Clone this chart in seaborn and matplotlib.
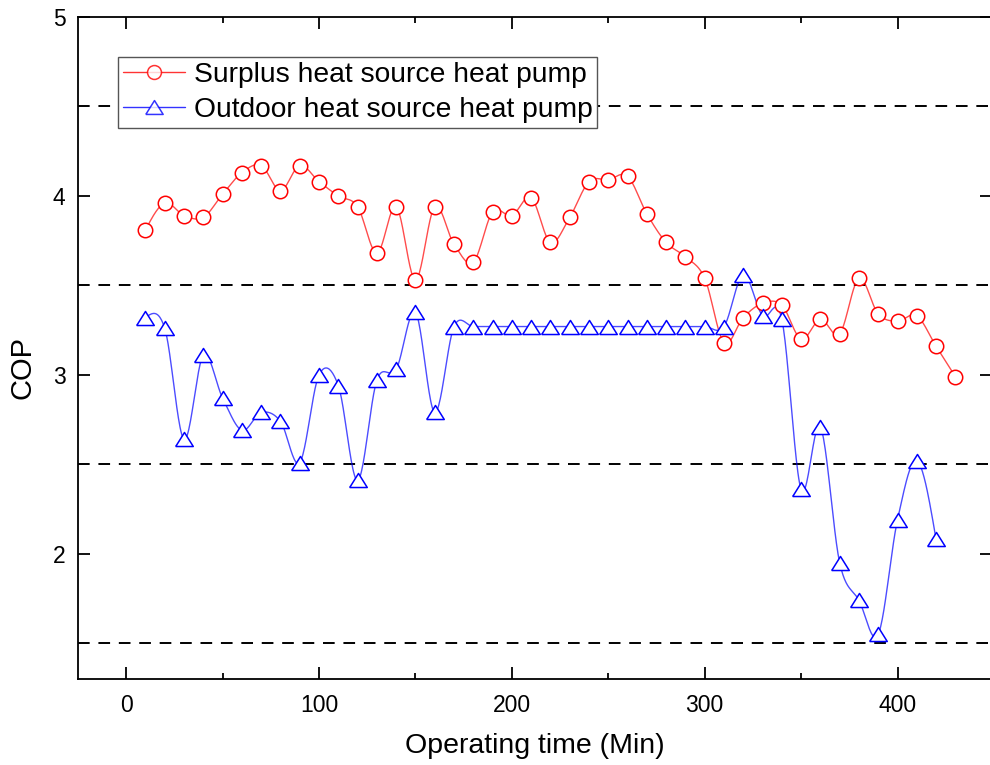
import numpy as np
import pandas as pd
import matplotlib
matplotlib.use("Agg")
import matplotlib.pyplot as plt
from matplotlib.lines import Line2D
import seaborn as sns

# Operating time (min) and COP for the two heat pump systems
time_surplus = [10, 20, 30, 40, 50, 60, 70, 80, 90, 100, 110, 120, 130, 140, 150,
                160, 170, 180, 190, 200, 210, 220, 230, 240, 250, 260, 270, 280,
                290, 300, 310, 320, 330, 340, 350, 360, 370, 380, 390, 400, 410,
                420, 430]
cop_surplus = [3.81, 3.96, 3.89, 3.88, 4.01, 4.13, 4.17, 4.03, 4.17, 4.08, 4.00,
               3.94, 3.68, 3.94, 3.53, 3.94, 3.73, 3.63, 3.91, 3.89, 3.99, 3.74,
               3.88, 4.08, 4.09, 4.11, 3.90, 3.74, 3.66, 3.54, 3.18, 3.32, 3.40,
               3.39, 3.20, 3.31, 3.23, 3.54, 3.34, 3.30, 3.33, 3.16, 2.99]

time_outdoor = [10, 20, 30, 40, 50, 60, 70, 80, 90, 100, 110, 120, 130, 140, 150,
                160, 170, 180, 190, 200, 210, 220, 230, 240, 250, 260, 270, 280,
                290, 300, 310, 320, 330, 340, 350, 360, 370, 380, 390, 400, 410,
                420]
cop_outdoor = [3.32, 3.26, 2.64, 3.11, 2.87, 2.69, 2.79, 2.74, 2.51, 3.00, 2.94,
               2.41, 2.97, 3.03, 3.35, 2.79, 3.27, 3.27, 3.27, 3.27, 3.27, 3.27,
               3.27, 3.27, 3.27, 3.27, 3.27, 3.27, 3.27, 3.27, 3.27, 3.56, 3.33,
               3.31, 2.36, 2.71, 1.95, 1.74, 1.55, 2.19, 2.52, 2.08]

label_surplus = "Surplus heat source heat pump"
label_outdoor = "Outdoor heat source heat pump"
x_label = "Operating time (Min)"
y_label = "COP"
reference_levels = [4.5, 3.5, 2.5, 1.5]


def smooth_curve(x, y, samples=24):
    """Cubic Hermite spline through the points (Catmull-Rom style tangents)."""
    x = np.asarray(x, float)
    y = np.asarray(y, float)
    n = len(x)
    m = np.empty(n)
    m[1:-1] = (y[2:] - y[:-2]) / (x[2:] - x[:-2])
    h0 = x[1] - x[0]
    hn = x[-1] - x[-2]
    m[0] = (3 * (y[1] - y[0]) / h0 - m[1]) / 2
    m[-1] = (3 * (y[-1] - y[-2]) / hn - m[-2]) / 2
    xs, ys = [], []
    t = np.linspace(0, 1, samples, endpoint=False)
    for i in range(n - 1):
        h = x[i + 1] - x[i]
        h00 = 2 * t**3 - 3 * t**2 + 1
        h10 = t**3 - 2 * t**2 + t
        h01 = -2 * t**3 + 3 * t**2
        h11 = t**3 - t**2
        xs.append(x[i] + t * h)
        ys.append(h00 * y[i] + h10 * h * m[i] + h01 * y[i + 1] + h11 * h * m[i + 1])
    xs.append([x[-1]])
    ys.append([y[-1]])
    return np.concatenate(xs), np.concatenate(ys)


sns.set_theme(style="ticks")
plt.rcParams["font.family"] = ["Liberation Sans", "DejaVu Sans"]
plt.rcParams["text.color"] = "black"
plt.rcParams["axes.labelcolor"] = "black"

RED = "#FF0000"
BLUE = "#0000FF"

fig = plt.figure(figsize=(9.9, 7.65), dpi=100)
ax = fig.add_axes([78 / 990, 86 / 765, 914 / 990, 662 / 765])

# dashed horizontal reference lines
for lvl in reference_levels:
    ax.axhline(lvl, color="black", lw=1.4, dashes=(6, 4.5), zorder=1)

# smoothed connecting curves
xs_s, ys_s = smooth_curve(time_surplus, cop_surplus)
xs_o, ys_o = smooth_curve(time_outdoor, cop_outdoor)
sns.lineplot(x=xs_s, y=ys_s, ax=ax, color=RED, lw=1.0, alpha=0.7,
             estimator=None, sort=False, zorder=2)
sns.lineplot(x=xs_o, y=ys_o, ax=ax, color=BLUE, lw=1.0, alpha=0.7,
             estimator=None, sort=False, zorder=2)

# open markers at the measured points
tri = [(-1, -0.8), (1, -0.8), (0, 0.8), (-1, -0.8)]
df_s = pd.DataFrame({"t": time_surplus, "cop": cop_surplus})
df_o = pd.DataFrame({"t": time_outdoor, "cop": cop_outdoor})
sns.scatterplot(data=df_s, x="t", y="cop", ax=ax, marker="o", s=108,
                facecolor="white", edgecolor=RED, linewidth=1.1, zorder=3)
sns.scatterplot(data=df_o, x="t", y="cop", ax=ax, marker=tri, s=160,
                facecolor="white", edgecolor=BLUE, linewidth=1.1, zorder=3)

ax.set_xlim(-25, 449)
ax.set_ylim(1.3, 5.0)
ax.set_xticks([0, 100, 200, 300, 400])
ax.set_xticks([50, 150, 250, 350], minor=True)
ax.set_yticks([2, 3, 4, 5])

for side in ["left", "right", "top", "bottom"]:
    ax.spines[side].set_visible(True)
    ax.spines[side].set_linewidth(1.3)
    ax.spines[side].set_color("black")

ax.tick_params(axis="both", which="major", direction="in", length=8.5, width=1.3,
               color="black", labelsize=16.5, labelcolor="black",
               top=True, right=True)
ax.tick_params(axis="x", which="major", pad=10.5)
ax.tick_params(axis="y", which="major", pad=9)
ax.tick_params(axis="x", which="minor", direction="in", length=4.5, width=1.3,
               color="black", top=True, bottom=True)

ax.set_xlabel(x_label, fontsize=20.5, color="black", labelpad=12)
ax.set_ylabel(y_label, fontsize=21, color="black")
ax.yaxis.set_label_coords(-0.045, 0.471)

handles = [
    Line2D([], [], color=RED, lw=1.0, alpha=0.8, marker="o", markersize=10,
           markerfacecolor="white", markeredgecolor=RED, markeredgewidth=1.1),
    Line2D([], [], color=BLUE, lw=1.0, alpha=0.8, marker=tri, markersize=12.5,
           markerfacecolor="white", markeredgecolor=BLUE, markeredgewidth=1.1),
]
leg = fig.legend(handles, [label_surplus, label_outdoor], loc="upper left",
                 bbox_to_anchor=(118 / 990, 1 - 57 / 765), borderaxespad=0,
                 fontsize=20.3, frameon=True, fancybox=False, shadow=False,
                 framealpha=1.0, handlelength=2.2, handletextpad=0.3,
                 labelspacing=0.3, borderpad=0.18)
leg.get_frame().set_edgecolor("#555555")
leg.get_frame().set_linewidth(1.0)
for txt in leg.get_texts():
    txt.set_color("black")

fig.savefig("out.png", dpi=100)
